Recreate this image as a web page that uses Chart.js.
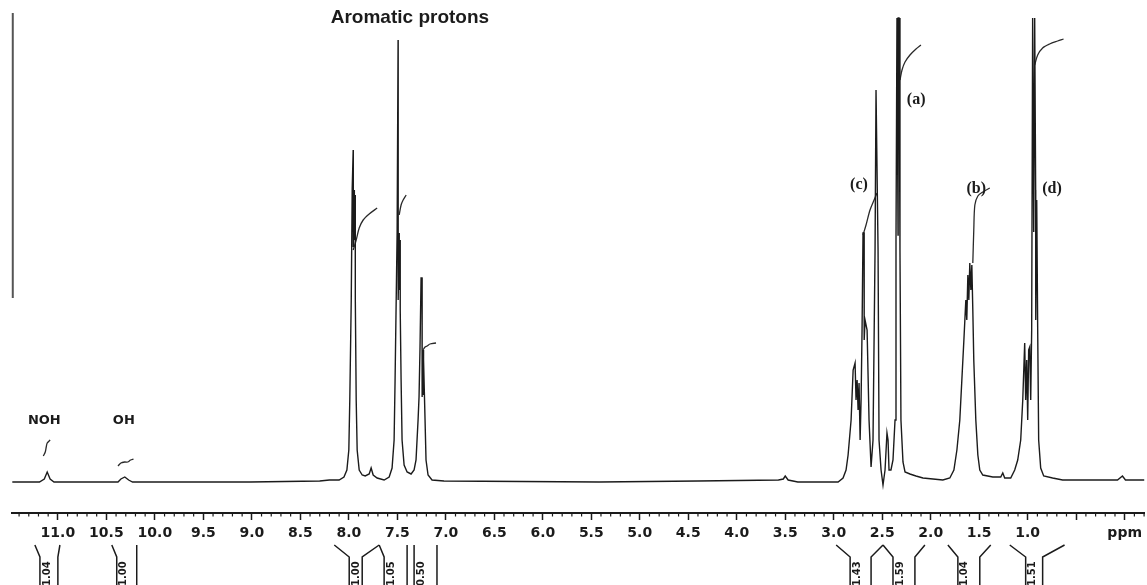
<!DOCTYPE html>
<html>
<head>
<meta charset="utf-8">
<script src="https://cdn.jsdelivr.net/npm/chart.js@4.4.1/dist/chart.umd.min.js"></script>
<style>
	html, body { margin: 0; padding: 0; background: #ffffff; }
	#nmr { display: block; }
</style>
</head>
<body>
<canvas id="nmr" width="1147" height="585"></canvas>
<script>
// 1H NMR trace, chemical shift (ppm) vs. intensity (arbitrary units above baseline)
const spectrumPpm = [
	11.47, 11.19, 11.14, 11.11, 11.08, 11.04,
	10.38, 10.35, 10.31, 10.27, 10.23,
	9.02, 8.30, 8.20, 8.10, 8.05, 8.02, 8.00, 7.99, 7.975, 7.965, 7.955, 7.954, 7.944, 7.943, 7.934, 7.933, 7.924, 7.914, 7.893, 7.862,
	7.831, 7.790, 7.770, 7.749, 7.708, 7.636, 7.584, 7.554, 7.533, 7.523, 7.512, 7.502, 7.492, 7.491, 7.481, 7.480, 7.471, 7.470, 7.461, 7.451,
	7.430, 7.399, 7.358, 7.327, 7.307, 7.286, 7.276, 7.266, 7.255, 7.245, 7.244, 7.235, 7.234, 7.225, 7.214, 7.204, 7.183, 7.142, 7.019,
	5.42, 4.40, 3.57, 3.52, 3.50, 3.47, 3.37,
	2.955, 2.904, 2.873, 2.852, 2.821, 2.800, 2.780, 2.770, 2.759, 2.749, 2.739, 2.728, 2.718, 2.708, 2.698, 2.687, 2.686, 2.677, 2.656, 2.636,
	2.615, 2.595, 2.574, 2.564, 2.554, 2.543, 2.533, 2.512, 2.492, 2.471, 2.451, 2.440, 2.430, 2.410, 2.389, 2.368, 2.358, 2.348, 2.337, 2.336,
	2.327, 2.317, 2.307, 2.286, 2.265, 2.214, 2.152, 2.080, 1.977, 1.875,
	1.803, 1.761, 1.730, 1.700, 1.679, 1.658, 1.638, 1.628, 1.617, 1.607, 1.597, 1.586, 1.576, 1.566, 1.556, 1.535, 1.514, 1.494, 1.463, 1.360,
	1.278, 1.257, 1.237, 1.175,
	1.134, 1.103, 1.072, 1.051, 1.031, 1.021, 1.010, 1.000, 0.990, 0.979, 0.969, 0.959, 0.949, 0.938, 0.928, 0.918, 0.917, 0.907, 0.897, 0.887,
	0.866, 0.835, 0.743, 0.640, 0.074, 0.023, -0.008, -0.204
];
const spectrumIntensity = [
	0, 0, 3, 10, 3, 0,
	0, 3, 5, 2, 0,
	0, 1, 2, 2, 5, 12, 32, 82, 182, 294, 332, 235, 292, 242, 287, 182, 82, 32, 12, 7,
	6, 8, 14, 7, 4, 2, 5, 14, 42, 102, 179, 249, 442, 182, 249, 192, 242, 172, 102, 42,
	17, 10, 8, 12, 22, 62, 85, 134, 204, 204, 85, 132, 87, 122, 62, 22, 7, 2, 1,
	0, 1, 2, 3, 6, 2, 0,
	0, 4, 12, 27, 62, 112, 119, 82, 102, 72, 99, 42, 82, 152, 249, 249, 142, 162, 152, 62,
	15, 42, 232, 392, 392, 232, 42, 12, -3, 12, 49, 42, 12, 12, 22, 62, 242, 464, 247, 464,
	464, 232, 62, 20, 10, 8, 6, 4, 3, 2,
	4, 12, 32, 62, 102, 142, 182, 162, 207, 182, 219, 192, 217, 172, 122, 62, 27, 12, 7, 5,
	5, 9, 4, 4,
	12, 22, 42, 82, 139, 82, 122, 62, 132, 135, 82, 152, 464, 250, 464, 292, 162, 282, 152, 42,
	14, 6, 4, 2, 2, 6, 2, 2
];

// integral traces (null separates the pieces)
const integralPpm = [
	11.15, 11.13, 11.12, 11.11, 11.08, null,
	10.38, 10.35, 10.31, 10.28, 10.25, 10.22, null,
	7.955, 7.924, 7.893, 7.852, 7.790, 7.708, null,
	7.481, 7.461, 7.440, 7.409, null,
	7.235, 7.214, 7.193, 7.163, 7.101, null,
	2.698, 2.667, 2.626, 2.584, 2.554, null,
	2.317, 2.296, 2.265, 2.214, 2.152, 2.101, null,
	1.566, 1.556, 1.545, 1.514, 1.463, 1.391, null,
	0.928, 0.897, 0.846, 0.774, 0.691, 0.630
];
const integralIntensity = [
	26, 30, 35, 39, 42, null,
	16, 19, 20, 20, 22, 23, null,
	232, 242, 254, 262, 268, 274, null,
	267, 277, 282, 287, null,
	132, 135, 136, 138, 139, null,
	247, 257, 272, 282, 289, null,
	402, 412, 420, 427, 433, 437, null,
	219, 252, 277, 286, 290, 294, null,
	417, 427, 434, 438, 441, 443
];

// vertical reference bar at the left edge
const refBarPpm = [11.465, 11.465];
const refBarIntensity = [184, 469];

// axis ticks
const tickValues = [11.0, 10.5, 10.0, 9.5, 9.0, 8.5, 8.0, 7.5, 7.0, 6.5, 6.0, 5.5, 5.0, 4.5, 4.0, 3.5, 3.0, 2.5, 2.0, 1.5, 1.0, 0.5, 0.0];
const tickLabels = ["11.0", "10.5", "10.0", "9.5", "9.0", "8.5", "8.0", "7.5", "7.0", "6.5", "6.0", "5.5", "5.0", "4.5", "4.0", "3.5", "3.0", "2.5", "2.0", "1.5", "1.0", "", "ppm"];

// integration brackets under the axis
const integOuterLeft  = [11.237, 10.444, 8.150, 7.687, 7.327, 2.975, 2.492, 1.823, 1.185];
const integInnerLeft  = [11.185, 10.393, 7.996, 7.636, 7.327, 2.831, 2.389, 1.720, 1.021];
const integInnerRight = [11.000, 10.187, 7.862, 7.399, 7.091, 2.615, 2.163, 1.494, 0.846];
const integOuterRight = [10.979, 10.187, 7.687, 7.399, 7.091, 2.492, 2.060, 1.381, 0.620];
const integValues = ["1.04", "1.00", "1.00", "1.05", "0.50", "1.43", "1.59", "1.04", "1.51"];

// peak annotations
const labelTexts = ["Aromatic protons", "NOH", "OH", "(c)", "(a)", "(b)", "(d)"];
const labelKinds = ["title", "group", "group", "peak", "peak", "peak", "peak"];
const labelPpm = [7.37, 11.14, 10.32, 2.74, 2.15, 1.53, 0.75];
const labelIntensity = [464, 61, 61, 297, 382, 293, 293];

const INK = "#1b1b1b";

function toPoints(xs, ys)
{
	return xs.map((x, i) => ({ x : x === null ? NaN : x, y : ys[i] }));
}

const nmrDecor = {
	id : "nmrDecor",
	afterDraw(chart)
	{
		const ctx = chart.ctx;
		const xs = chart.scales.x;
		const ys = chart.scales.y;
		ctx.save();

		// minor ticks every 0.1 ppm
		ctx.strokeStyle = INK;
		ctx.lineWidth = 1.2;
		for(let i = -2; i <= 114; i++)
		{
			if(i % 5 === 0)
				continue;
			const px = xs.getPixelForValue(i / 10);
			if(px < xs.left || px > xs.right)
				continue;
			ctx.beginPath();
			ctx.moveTo(px, xs.top);
			ctx.lineTo(px, xs.top + 3.5);
			ctx.stroke();
		}

		// integration brackets
		const yTop = xs.top + 32, yElbow = xs.top + 44, yEnd = chart.height;
		ctx.lineWidth = 1.5;
		integValues.forEach((val, i) =>
		{
			const lo = xs.getPixelForValue(integOuterLeft[i]);
			const li = xs.getPixelForValue(integInnerLeft[i]);
			const ri = xs.getPixelForValue(integInnerRight[i]);
			const ro = xs.getPixelForValue(integOuterRight[i]);
			ctx.beginPath();
			ctx.moveTo(lo, yTop);
			ctx.lineTo(li, yElbow);
			ctx.lineTo(li, yEnd);
			ctx.stroke();
			ctx.beginPath();
			ctx.moveTo(ro, yTop);
			ctx.lineTo(ri, yElbow);
			ctx.lineTo(ri, yEnd);
			ctx.stroke();
			ctx.save();
			ctx.translate(li + 7, yEnd + 1);
			ctx.rotate(-Math.PI / 2);
			ctx.font = "bold 10px 'DejaVu Sans'";
			ctx.fillStyle = INK;
			ctx.textAlign = "left";
			ctx.textBaseline = "middle";
			ctx.fillText(val, 0, 0);
			ctx.restore();
		});

		// text labels
		ctx.fillStyle = INK;
		ctx.textAlign = "center";
		ctx.textBaseline = "middle";
		labelTexts.forEach((t, i) =>
		{
			switch(labelKinds[i])
			{
				case "title" : ctx.font = "bold 19px 'Liberation Sans'"; break;
				case "group" : ctx.font = "bold 13px 'DejaVu Sans'"; break;
				default : ctx.font = "bold 16px 'Liberation Serif'";
			}
			ctx.fillText(t, xs.getPixelForValue(labelPpm[i]), ys.getPixelForValue(labelIntensity[i]));
		});
		ctx.restore();
	}
};

new Chart(document.getElementById("nmr").getContext("2d"),
{
	type : "scatter",
	data :
	{
		datasets :
		[{
			label : "spectrum",
			data : toPoints(spectrumPpm, spectrumIntensity),
			showLine : true,
			borderColor : INK,
			borderWidth : 1.4,
			pointRadius : 0,
			tension : 0
		},
		{
			label : "integral",
			data : toPoints(integralPpm, integralIntensity),
			showLine : true,
			spanGaps : false,
			borderColor : "#2a2a2a",
			borderWidth : 1.3,
			pointRadius : 0,
			tension : 0.3
		},
		{
			label : "reference",
			data : toPoints(refBarPpm, refBarIntensity),
			showLine : true,
			borderColor : "#555555",
			borderWidth : 2,
			pointRadius : 0,
			clip : false
		}]
	},
	options :
	{
		responsive : false,
		animation : false,
		layout : { padding : { left : 12, right : 0, top : 13, bottom : 0 } },
		plugins :
		{
			legend : { display : false },
			tooltip : { enabled : false }
		},
		scales :
		{
			x :
			{
				type : "linear",
				reverse : true,
				min : -0.204,
				max : 11.473,
				afterBuildTicks : scale => { scale.ticks = tickValues.map(v => ({ value : v })); },
				afterFit : scale => { scale.height = 72; },
				border : { display : true, color : INK, width : 2 },
				grid :
				{
					drawOnChartArea : false,
					drawTicks : true,
					tickLength : 7,
					tickColor : INK,
					tickWidth : 1.5
				},
				ticks :
				{
					autoSkip : false,
					maxRotation : 0,
					padding : 5,
					color : INK,
					font : { family : "'DejaVu Sans'", weight : "bold", size : 14 },
					callback : value => tickLabels[tickValues.indexOf(value)]
				}
			},
			y :
			{
				display : false,
				min : -31,
				max : 469
			}
		}
	},
	plugins : [nmrDecor]
});
</script>
</body>
</html>
